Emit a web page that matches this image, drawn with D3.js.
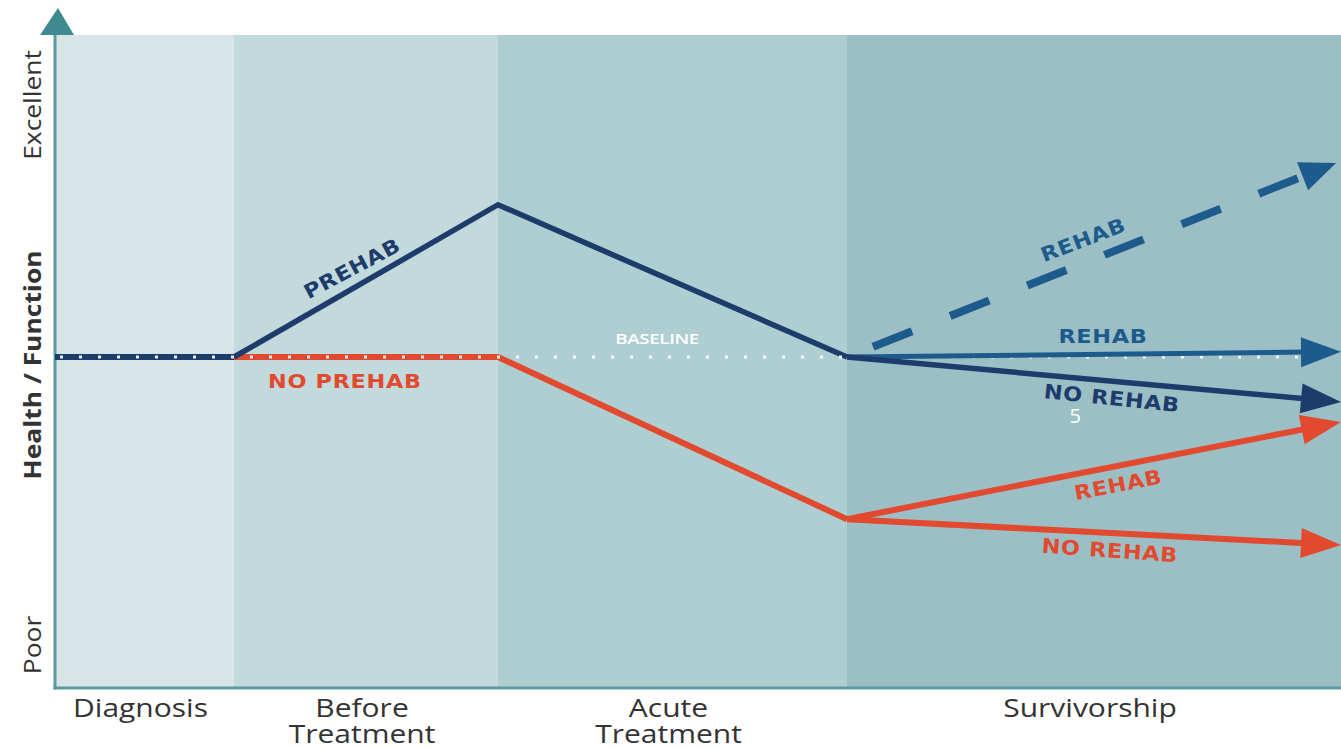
<!DOCTYPE html>
<html>
<head>
<meta charset="utf-8">
<script src="https://cdn.jsdelivr.net/npm/d3@7"></script>
<style>
  html, body { margin: 0; padding: 0; background: #ffffff; }
  svg { display: block; }
</style>
</head>
<body>
<svg id="chart" width="1341" height="748"></svg>
<script>
// Care phases along the patient journey (t = phase index, 0..4)
const phases = [
  ["Diagnosis"],
  ["Before", "Treatment"],
  ["Acute", "Treatment"],
  ["Survivorship"]
];
const phaseEdges = [0, 1, 2, 3, 4];

// Health / function level, 0 = poor, 100 = excellent
const baselineLevel = 50;
const yAxisLabels = ["Poor", "Health / Function", "Excellent"];

// Pathway with prehabilitation (t, level)
const prehabT = [0, 1, 2, 3];
const prehabV = [50, 50, 73, 50];

// Pathway without prehabilitation
const noPrehabT = [1, 2, 3];
const noPrehabV = [50, 50, 25.5];

// Survivorship branches: start/end levels
const branchNames = ["REHAB (after prehab, dashed)", "REHAB (after prehab)", "NO REHAB (after prehab)", "REHAB (no prehab)", "NO REHAB (no prehab)"];
const branchStartV = [50, 50, 50, 25.5, 25.5];
const branchEndT = [3.99, 4, 4, 4, 4];
const branchEndV = [79.3, 50.8, 43.2, 40.2, 21.6];

const svg = d3.select("#chart");
const W = 1341, H = 748;
const plotLeft = 55, plotTop = 35, plotBottom = 688;

// Phase widths differ, so the time scale is piecewise linear
const x = d3.scaleLinear().domain(phaseEdges).range([55, 234, 498, 847, 1341]);
const y = d3.scaleLinear().domain([0, 100]).range([688, 26]);

const navy = "#1d3c6c";
const blue = "#1c5b8c";
const red = "#e14a2f";
const textDark = "#333333";

// Phase background bands
const bandColors = ["#d7e5e7", "#c3dadd", "#afced2", "#9cbfc5"];
svg.append("g").selectAll("rect")
  .data(phases)
  .join("rect")
  .attr("x", (d, i) => x(phaseEdges[i]))
  .attr("y", plotTop)
  .attr("width", (d, i) => x(phaseEdges[i + 1]) - x(phaseEdges[i]))
  .attr("height", plotBottom - plotTop)
  .attr("fill", (d, i) => bandColors[i]);

// Axes
const axisColor = "#5b9aa0";
svg.append("line").attr("x1", plotLeft).attr("x2", plotLeft)
  .attr("y1", plotTop - 2).attr("y2", plotBottom + 1.5)
  .attr("stroke", axisColor).attr("stroke-width", 3);
svg.append("line").attr("x1", plotLeft - 1.5).attr("x2", W)
  .attr("y1", plotBottom).attr("y2", plotBottom)
  .attr("stroke", axisColor).attr("stroke-width", 3);
svg.append("path")
  .attr("d", `M${plotLeft + 3},8 L${plotLeft + 19},35 L${plotLeft - 15},35 Z`)
  .attr("fill", "#3f8a91");

// Bottom phase labels (slightly widened lettering)
const phaseLabels = svg.append("g")
  .attr("font-family", "'Open Sans', sans-serif")
  .attr("font-size", 25)
  .attr("fill", textDark)
  .attr("text-anchor", "middle");
phases.forEach((lines, i) => {
  const cx = (x(phaseEdges[i]) + x(phaseEdges[i + 1])) / 2 - 4;
  const t = phaseLabels.append("text")
    .attr("transform", `translate(${cx},717) scale(1.2,1)`);
  lines.forEach((ln, j) => {
    t.append("tspan").attr("x", 0).attr("y", j * 26).text(ln);
  });
});

// Y axis labels (rotated)
const yLab = svg.append("g")
  .attr("font-family", "'Open Sans', sans-serif")
  .attr("font-size", 24)
  .attr("fill", textDark)
  .attr("text-anchor", "middle");
const yLabelPos = [645, 365, 105];
yAxisLabels.forEach((s, i) => {
  yLab.append("text")
    .attr("transform", `translate(41,${yLabelPos[i]}) rotate(-90) scale(1.1,1)`)
    .attr("font-weight", i === 1 ? 700 : 400)
    .text(s);
});

const line = d3.line().x(d => x(d[0])).y(d => y(d[1]));

// Draws a straight segment ending in a filled arrowhead
function arrow(g, t0, v0, t1, v1, color, width, headLen, headW, dash, dashOffset) {
  const p0 = [x(t0), y(v0)], p1 = [x(t1), y(v1)];
  const dx = p1[0] - p0[0], dy = p1[1] - p0[1];
  const len = Math.hypot(dx, dy);
  const ux = dx / len, uy = dy / len;
  const end = [p1[0] - ux * (headLen - 4), p1[1] - uy * (headLen - 4)];
  const seg = g.append("line")
    .attr("x1", p0[0]).attr("y1", p0[1])
    .attr("x2", end[0]).attr("y2", end[1])
    .attr("stroke", color).attr("stroke-width", width);
  if (dash) seg.attr("stroke-dasharray", dash).attr("stroke-dashoffset", dashOffset);
  const bx = p1[0] - ux * headLen, by = p1[1] - uy * headLen;
  const px = -uy * headW / 2, py = ux * headW / 2;
  g.append("path")
    .attr("d", `M${p1[0]},${p1[1]} L${bx + px},${by + py} L${bx - px},${by - py} Z`)
    .attr("fill", color);
}

// Pre-treatment pathways
svg.append("path")
  .datum(noPrehabT.map((t, i) => [t, noPrehabV[i]]))
  .attr("d", line).attr("fill", "none")
  .attr("stroke", red).attr("stroke-width", 6).attr("stroke-linejoin", "miter");
svg.append("path")
  .datum(prehabT.map((t, i) => [t, prehabV[i]]).slice(0, 2))
  .attr("d", line).attr("fill", "none")
  .attr("stroke", navy).attr("stroke-width", 6);
svg.append("path")
  .datum(prehabT.map((t, i) => [t, prehabV[i]]).slice(1))
  .attr("d", line).attr("fill", "none")
  .attr("stroke", navy).attr("stroke-width", 5.5).attr("stroke-linejoin", "miter");

// Dotted baseline
svg.append("line")
  .attr("x1", x(0) + 5).attr("x2", x(4) - 8)
  .attr("y1", y(baselineLevel)).attr("y2", y(baselineLevel))
  .attr("stroke", "#ffffff").attr("stroke-width", 3)
  .attr("stroke-dasharray", "3 16").attr("opacity", 0.9);

// Survivorship branches
const branches = svg.append("g");
const branchColors = [blue, blue, navy, red, red];
const branchWidths = [8, 5, 5.5, 6, 6];
branchNames.forEach((name, i) => {
  arrow(branches, 3, branchStartV[i], branchEndT[i], branchEndV[i],
    branchColors[i], branchWidths[i], i === 0 ? 36 : 40, 30,
    i === 0 ? "42 41" : null, 55);
});

// Line annotations: [text, t, level, rotation, color, size, weight]
const annotations = [
  ["PREHAB", 1.447, 63.4, -28, navy, 20, 700],
  ["NO PREHAB", 1.42, 46.4, 0, red, 20, 700],
  ["BASELINE", 2.456, 52.9, 0, "#ffffff", 15, 600],
  ["REHAB", 3.478, 67.7, -21, blue, 20, 700],
  ["REHAB", 3.518, 53.2, 0, blue, 20, 700],
  ["NO REHAB", 3.536, 43.8, 6, navy, 20, 700],
  ["5", 3.462, 41.2, 0, "#ffffff", 20, 400],
  ["REHAB", 3.549, 30.7, -11, red, 20, 700],
  ["NO REHAB", 3.532, 20.8, 4, red, 20, 700]
];
svg.append("g").selectAll("text")
  .data(annotations)
  .join("text")
  .attr("transform", d => {
    const sx = d[0] === "5" ? 1 : (d[0] === "BASELINE" ? 1.25 : 1.12);
    return `translate(${x(d[1])},${y(d[2])}) rotate(${d[3]}) scale(${sx},1)`;
  })
  .attr("text-anchor", "middle")
  .attr("dominant-baseline", "central")
  .attr("font-family", d => d[0] === "BASELINE" || d[0] === "5" ? "'Open Sans', sans-serif" : "'DejaVu Sans', sans-serif")
  .attr("font-size", d => d[5])
  .attr("font-weight", d => d[6])
  .attr("letter-spacing", d => d[0] === "BASELINE" ? -0.3 : (d[6] === 700 ? 0.6 : 0))
  .attr("fill", d => d[4])
  .text(d => d[0]);
</script>
</body>
</html>
